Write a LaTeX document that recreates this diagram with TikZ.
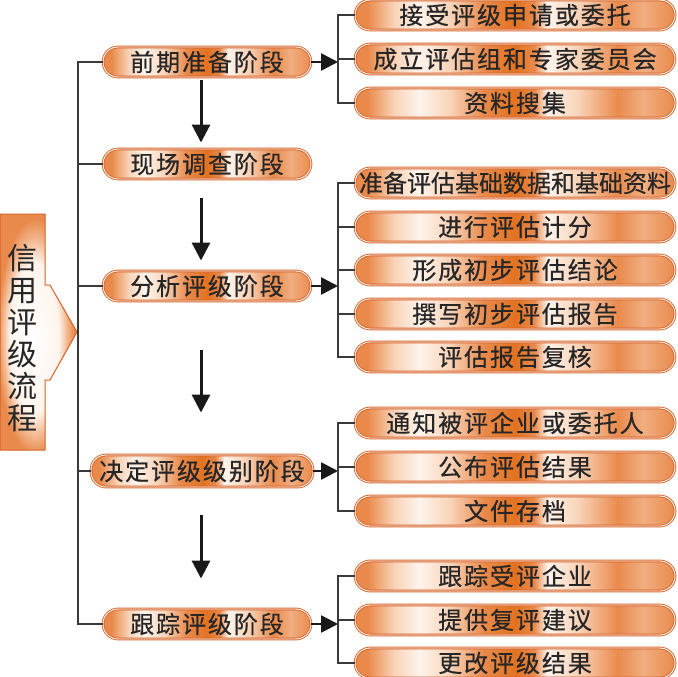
\documentclass[tikz,border=0pt]{standalone}
\usepackage{fontspec}
\usepackage{tikz}
\usetikzlibrary{positioning, arrows.meta, calc}
\newfontfamily\cjk{Noto Sans CJK SC}[LetterSpace=8, FakeBold=0.5]
\newfontfamily\cjktight{Noto Sans CJK SC}[FakeBold=0.5]
\newfontfamily\cjktitle{Noto Sans CJK SC}
\definecolor{orgdark}{RGB}{226,114,32}
\definecolor{orgmid}{RGB}{233,138,76}
\definecolor{orglight}{RGB}{248,210,182}
\definecolor{orgwhite}{RGB}{254,244,236}
\definecolor{orgline}{RGB}{214,98,38}
\definecolor{linegray}{RGB}{58,58,58}
\pgfdeclareradialshading{glow}{\pgfpoint{-4bp}{-2bp}}{color(0bp)=(white); color(16bp)=(orgwhite);
  color(21bp)=(orglight!60!orgmid); color(25bp)=(orgmid); color(50bp)=(orgmid)}
\newcommand{\stripefill}{%
  \foreach \fa/\fb/\ca/\cb in {0/0.04/orgmid/orgmid, 0.04/0.12/orgmid/orglight,
      0.12/0.2/orglight/orgwhite, 0.2/0.3/orgwhite/orglight, 0.3/0.4/orglight/orgmid,
      0.4/0.5/orgmid/orgdark, 0.5/0.56/orgdark/orgmid, 0.56/0.6/orgmid/orgwhite,
      0.6/0.7/orgwhite/orglight, 0.7/0.82/orglight/orgmid, 0.82/0.9/orgmid/orglight!50!orgmid,
      0.9/1/orglight!50!orgmid/orgmid}
    \shade[sharp corners, left color=\ca, right color=\cb]
      ($(path picture bounding box.south west)!\fa!(path picture bounding box.south east)$)
      rectangle ($(path picture bounding box.north west)!\fb!(path picture bounding box.north east)+(0.6,0)$);}

\begin{document}
\begin{tikzpicture}[x=1pt, y=-1pt,
    stagebox/.style={rounded corners=15pt, draw=orgline, line width=0.9pt,
                     double=white, double distance=0.9pt,
                     path picture={\stripefill}, inner sep=0pt,
                     minimum width=208pt, minimum height=30pt,
                     font=\cjk\fontsize{24}{24}\selectfont, text=black!85},
    subbox/.style={stagebox, minimum width=320pt},
    trunkline/.style={draw=linegray, line width=2.6pt},
    downarrow/.style={-{Triangle[length=18pt, width=18pt]}, line width=3pt, black!90},
    rightarrow/.style={-{Triangle[length=17pt, width=17pt]}, line width=2.6pt, black!90},
    titlearrow/.style={draw=orgline, line width=1pt, shading=glow}]

    \useasboundingbox (0,0) rectangle (678,677);

    % --- Title ---
    \draw[titlearrow] (0,214) -- (45,214) -- (45,285) -- (50,285) -- (77,332)
      -- (50,380) -- (45,380) -- (45,450) -- (0,450) -- cycle;
    \node[align=center, font=\cjktitle\fontsize{30}{32}\selectfont, text=black!85] (title) at (22,338)
      {信\\用\\评\\级\\流\\程};

    % --- Stages ---
    \node[stagebox] (prep)     at (207, 62)  {前期准备阶段};
    \node[stagebox] (survey)   at (207,164)  {现场调查阶段};
    \node[stagebox] (analysis) at (207,286)  {分析评级阶段};
    \node[stagebox, minimum width=222pt, minimum height=32pt] (decide) at (202,471) {决定评级级别阶段};
    \node[stagebox] (track)    at (207,624)  {跟踪评级阶段};

    % --- Steps ---
    \node[subbox] (p1) at (515, 15)  {接受评级申请或委托};
    \node[subbox] (p2) at (515, 59)  {成立评估组和专家委员会};
    \node[subbox] (p3) at (515,103)  {资料搜集};

    \node[subbox, font=\cjktight\fontsize{24}{24}\selectfont] (a1) at (515,183) {准备评估基础数据和基础资料};
    \node[subbox] (a2) at (515,227)  {进行评估计分};
    \node[subbox] (a3) at (515,270)  {形成初步评估结论};
    \node[subbox] (a4) at (515,314)  {撰写初步评估报告};
    \node[subbox] (a5) at (515,357)  {评估报告复核};

    \node[subbox] (d1) at (515,423)  {通知被评企业或委托人};
    \node[subbox] (d2) at (515,467)  {公布评估结果};
    \node[subbox] (d3) at (515,511)  {文件存档};

    \node[subbox] (t1) at (515,576)  {跟踪受评企业};
    \node[subbox] (t2) at (515,620)  {提供复评建议};
    \node[subbox] (t3) at (515,663)  {更改评级结果};

    % --- Trunk ---
    \coordinate (trunk) at (78,0);
    \draw[trunkline] (prep.west) -- (prep.west -| trunk) |- (track.west);
    \draw[trunkline] (survey.west) -- (survey.west -| trunk);
    \draw[trunkline] (analysis.west) -- (analysis.west -| trunk);
    \draw[trunkline] (decide.west) -- (decide.west -| trunk);

    % --- Down arrows ---
    \draw[downarrow, shorten <=3pt, shorten >=6pt] ([xshift=-6pt]prep.south) -- ([xshift=-6pt]survey.north);
    \draw[downarrow, shorten <=19pt, shorten >=10pt] ([xshift=-6pt]survey.south) -- ([xshift=-6pt]analysis.north);
    \draw[downarrow, shorten <=49pt, shorten >=42pt] ([xshift=-6pt]analysis.south) -- ([xshift=-1pt]decide.north);
    \draw[downarrow, shorten <=28pt, shorten >=30pt] ([xshift=-1pt]decide.south) -- ([xshift=-6pt]track.north);

    % --- Branches ---
    \coordinate (fork) at (338,0);
    \draw[rightarrow] (prep.east) -- (prep.east -| fork);
    \draw[trunkline] (p1.west) -- (p1.west -| fork) |- (p3.west);
    \draw[trunkline] (p2.west) -- (p2.west -| fork);

    \draw[rightarrow] (analysis.east) -- (analysis.east -| fork);
    \draw[trunkline] (a1.west) -- (a1.west -| fork) |- (a5.west);
    \foreach \n in {a2,a3,a4}
      \draw[trunkline] (\n.west) -- (\n.west -| fork);

    \draw[rightarrow] (decide.east) -- (decide.east -| fork);
    \draw[trunkline] (d1.west) -- (d1.west -| fork) |- (d3.west);
    \draw[trunkline] (d2.west) -- (d2.west -| fork);

    \draw[rightarrow] (track.east) -- (track.east -| fork);
    \draw[trunkline] (t1.west) -- (t1.west -| fork) |- (t3.west);
    \draw[trunkline] (t2.west) -- (t2.west -| fork);
  \end{tikzpicture}
\end{document}
